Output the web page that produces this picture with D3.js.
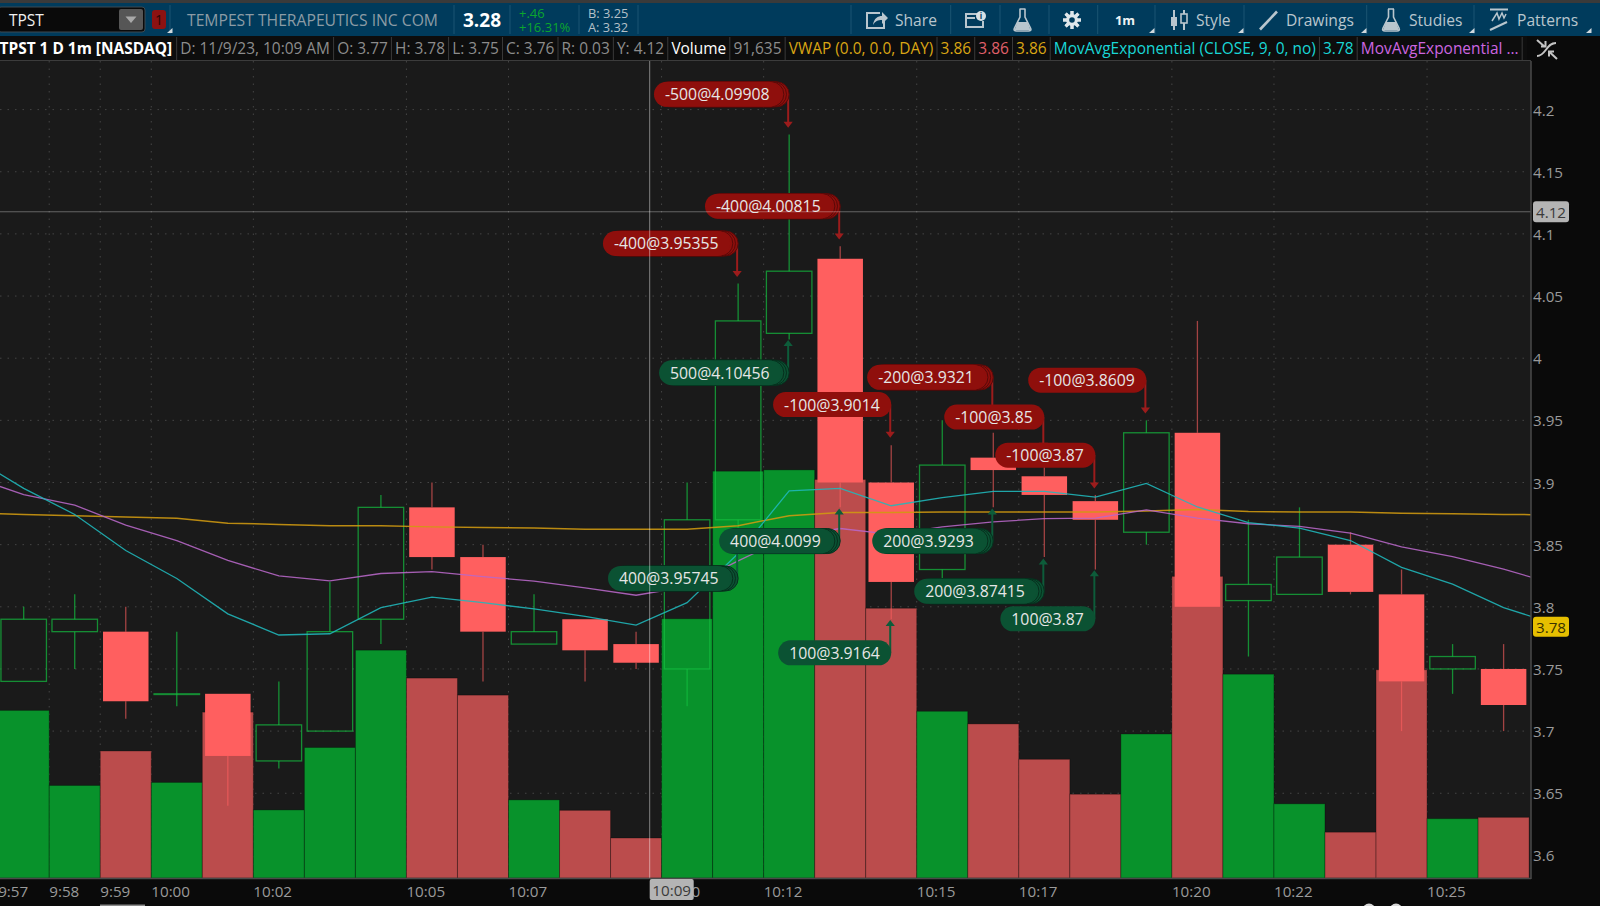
<!DOCTYPE html>
<html><head><meta charset="utf-8">
<script src="https://cdn.jsdelivr.net/npm/d3@7"></script>
<style>html,body{margin:0;padding:0;background:#0a0a0a;overflow:hidden}svg{display:block}text{font-family:"Open Sans",sans-serif}</style>
</head><body><svg id="c" width="1600" height="906"></svg>
<script>
// ---------- data ----------
const barTimes = ["9:57","9:58","9:59","10:00","10:01","10:02","10:03","10:04","10:05","10:06","10:07","10:08","10:09","10:10","10:11","10:12","10:13","10:14","10:15","10:16","10:17","10:18","10:19","10:20","10:21","10:22","10:23","10:24","10:25","10:26"];
const opens  = [3.74,3.78,3.78,3.73,3.73,3.676,3.70,3.79,3.88,3.84,3.77,3.79,3.77,3.75,3.87,4.02,4.08,3.90,3.83,3.92,3.905,3.885,3.86,3.94,3.805,3.81,3.85,3.81,3.75,3.75];
const highs  = [3.80,3.81,3.80,3.78,3.73,3.74,3.82,3.89,3.90,3.85,3.81,3.79,3.78,3.90,4.06,4.18,4.09,3.93,3.95,3.94,3.93,3.89,3.95,4.03,3.87,3.88,3.86,3.83,3.77,3.77];
const lows   = [3.74,3.75,3.71,3.72,3.64,3.67,3.70,3.77,3.83,3.74,3.77,3.74,3.75,3.72,3.86,4.015,3.88,3.79,3.82,3.88,3.84,3.83,3.85,3.80,3.76,3.81,3.81,3.70,3.73,3.70];
const closes = [3.79,3.79,3.724,3.73,3.68,3.705,3.78,3.88,3.84,3.78,3.78,3.765,3.755,3.87,4.03,4.07,3.90,3.82,3.914,3.91,3.89,3.87,3.94,3.80,3.818,3.84,3.812,3.74,3.76,3.721];
const volumes = [384000,212000,291000,219000,380000,156000,299000,522000,458000,419000,179000,155000,91635,594000,932000,935000,913000,618000,382000,353000,272000,192000,330000,691000,467000,170000,105000,477000,136000,139000];
// studies run one bar before and one bar after the visible candles
const vwap  = [3.8753,3.8743,3.8733,3.8723,3.8713,3.8673,3.8663,3.8653,3.8653,3.8643,3.8638,3.8633,3.8623,3.8623,3.8623,3.8653,3.8733,3.8758,3.8758,3.8763,3.8763,3.8763,3.8763,3.877,3.8783,3.8767,3.8763,3.8763,3.8753,3.8748,3.8743,3.874];
const ema9  = [3.9203,3.8953,3.8743,3.8453,3.8228,3.7943,3.7773,3.7783,3.7993,3.8078,3.8033,3.7983,3.7923,3.7853,3.8033,3.8429,3.8933,3.8953,3.8813,3.8879,3.8928,3.8928,3.8883,3.8993,3.8803,3.8678,3.8633,3.8533,3.8317,3.8183,3.7993,3.7863];
const emaSlow = [3.9043,3.8903,3.8818,3.8657,3.8533,3.8373,3.8249,3.8209,3.8268,3.8283,3.8243,3.8207,3.8153,3.8093,3.8163,3.837,3.8563,3.863,3.8583,3.8643,3.8683,3.871,3.8713,3.878,3.8713,3.8668,3.8647,3.8593,3.8483,3.8403,3.8303,3.8183];
const priceTicks = ["3.6","3.65","3.7","3.75","3.8","3.85","3.9","3.95","4","4.05","4.1","4.15","4.2"];
const timeTicks = ["9:57","9:58","9:59","10:00","10:02","10:05","10:07","10:10","10:12","10:15","10:17","10:20","10:22","10:25"];
const tradeLabels = ["-500@4.09908","-400@4.00815","-400@3.95355","-100@3.9014","-200@3.9321","-100@3.85","-100@3.87","-100@3.8609","500@4.10456","400@3.95745","400@4.0099","100@3.9164","200@3.9293","200@3.87415","100@3.87"];
const tradeBars   = [15,16,14,17,19,20,21,22,15,14,16,17,19,20,21];
const tradeTips   = [4.1853,4.0955,4.0653,3.936,3.9448,3.9271,3.8952,3.9555,4.0146,3.8563,3.8791,3.7893,3.8791,3.8389,3.8295];
const tradePills  = [4.2123,4.1223,4.0923,3.9627,3.9846,3.9526,3.922,3.9823,3.9883,3.8228,3.8529,3.763,3.8529,3.8125,3.7903];
const tradeFills  = [4,4,4,1,4,1,1,1,4,4,4,1,4,4,1];
const hoverTime = "10:09", hoverPrice = 4.1178, hoverPriceText = "4.12";
const lastStudy = 3.7839, lastStudyText = "3.78";
const headerTicker = "TPST", headerName = "TEMPEST THERAPEUTICS INC COM", headerLast = "3.28";
const headerChange = ["+.46","+16.31%"], headerQuote = ["B: 3.25","A: 3.32"];
const statusCells = [
 ["TPST 1 D 1m [NASDAQ]","#ffffff",700],["D: 11/9/23, 10:09 AM","#8c8c8c",400],["O: 3.77","#8c8c8c",400],["H: 3.78","#8c8c8c",400],["L: 3.75","#8c8c8c",400],["C: 3.76","#8c8c8c",400],["R: 0.03","#8c8c8c",400],["Y: 4.12","#8c8c8c",400],
 ["Volume","#ffffff",400],["91,635","#8c8c8c",400],["VWAP (0.0, 0.0, DAY)","#d9a514",400],["3.86","#d9a514",400],["3.86","#e0606a",400],["3.86","#d9a514",400],
 ["MovAvgExponential (CLOSE, 9, 0, no)","#19d6d6",400],["3.78","#19d6d6",400],["MovAvgExponential ...","#cc66e0",400]];

// ---------- layout ----------
const svg = d3.select("#c");
const W=1600,H=906,plotR=1531,plotT=61,plotB=878;
const y = d3.scaleLinear().domain([3.6,4.2]).range([855.4,109.6]);
const x = d3.scaleLinear().domain([0,29]).range([23.7,1503.6]);
const step = x(1)-x(0);
const yVol = d3.scaleLinear().domain([0,916350]).range([plotB,478]);
const idx = t => barTimes.indexOf(t);
const bw = 45.5;

svg.append("rect").attr("width",W).attr("height",H).attr("fill","#0a0a0a");
svg.append("rect").attr("y",plotT).attr("width",plotR).attr("height",plotB-plotT).attr("fill","#1a1a1a");
const defs = svg.append("defs");
defs.append("clipPath").attr("id","plot").append("rect").attr("y",plotT).attr("width",plotR).attr("height",plotB-plotT);
const plot = svg.append("g").attr("clip-path","url(#plot)");

// grid
const tickX = t => x(idx(t))-step/2;
plot.selectAll(".gy").data(priceTicks).join("line").attr("x1",0).attr("x2",1524)
  .attr("y1",d=>y(+d)).attr("y2",d=>y(+d)).attr("stroke","#454545").attr("stroke-dasharray","1.5 6");
plot.selectAll(".gx").data(timeTicks).join("line").attr("x1",tickX).attr("x2",tickX)
  .attr("y1",plotT).attr("y2",plotB).attr("stroke","#454545").attr("stroke-dasharray","1.5 6");

// volume
plot.selectAll(".v").data(volumes).join("rect")
  .attr("x",(d,i)=>x(i)-step/2).attr("width",step)
  .attr("y",d=>yVol(d)).attr("height",d=>plotB-yVol(d))
  .attr("fill",(d,i)=>closes[i]>=opens[i]?"#08922b":"#bb4c4c")
  .attr("stroke","#000").attr("stroke-opacity",.3).attr("stroke-width",1);

// candles
const candles = barTimes.map((t,i)=>({i,o:opens[i],h:highs[i],l:lows[i],c:closes[i],up:closes[i]>=opens[i]}));
const cg = plot.selectAll(".cd").data(candles).join("g");
cg.append("line").attr("x1",d=>x(d.i)).attr("x2",d=>x(d.i)).attr("y1",d=>y(d.h)).attr("y2",d=>y(Math.max(d.o,d.c)))
  .attr("stroke",d=>d.up?"#14c040":"#ff5f5f").attr("stroke-opacity",d=>d.up?.7:.6).attr("stroke-width",1.3);
cg.append("line").attr("x1",d=>x(d.i)).attr("x2",d=>x(d.i)).attr("y1",d=>y(Math.min(d.o,d.c))).attr("y2",d=>y(d.l))
  .attr("stroke",d=>d.up?"#14c040":"#ff5f5f").attr("stroke-opacity",d=>d.up?.7:.6).attr("stroke-width",1.3);
cg.append("rect").attr("x",d=>x(d.i)-bw/2).attr("width",bw)
  .attr("y",d=>y(Math.max(d.o,d.c))).attr("height",d=>Math.max(Math.abs(y(d.o)-y(d.c)),.7))
  .attr("fill",d=>d.up?"none":"#ff5f5f")
  .attr("stroke",d=>d.up?"#14c040":"none").attr("stroke-opacity",.7).attr("stroke-width",1.3);

// studies
const line = d3.line().x((d,i)=>x(i-1)).y(d=>y(d));
[[vwap,"#d09a10",1.5],[emaSlow,"#b868c8",1.3],[ema9,"#20b8bc",1.3]].forEach(([a,c,w])=>
  plot.append("path").attr("d",line(a)).attr("fill","none").attr("stroke",c).attr("stroke-width",w).attr("stroke-opacity",.88));

// trade bubbles
const pillH=25;
const trades = tradeLabels.map((t,i)=>({t,bar:tradeBars[i],tip:tradeTips[i],pill:tradePills[i],fills:tradeFills[i],sell:t[0]==="-"}));
trades.forEach(d=>{
  const g=plot.append("g");
  const ax=x(d.bar)-1, py=y(d.pill), ty=y(d.tip);
  const col=d.sell?"#8f0f0c":"#0b5233", acol=d.sell?"#9c1c1c":"#0d5c3a", dark=d.sell?"#590908":"#062f1d";
  const dir=ty>py?1:-1;
  g.append("line").attr("x1",ax).attr("x2",ax).attr("y1",py).attr("y2",ty-dir*5).attr("stroke",acol).attr("stroke-width",2);
  g.append("path").attr("d",`M${ax-4.6},${ty-dir*6}L${ax+4.6},${ty-dir*6}L${ax},${ty}Z`).attr("fill",acol);
  const txt=g.append("text").attr("font-size",15.8).attr("fill","#e6e6e6").attr("dominant-baseline","central").text(d.t);
  const tw=txt.node().getComputedTextLength();
  const pw=tw+22.5, extra=d.fills>1?8:0, right=ax+1-extra, left=right-pw;
  for(let k=d.fills-1;k>0;k--){
    const off=extra*k/(d.fills-1);
    g.append("rect").attr("x",left+off).attr("y",py-pillH/2).attr("width",pw).attr("height",pillH).attr("rx",pillH/2)
      .attr("fill",col).attr("stroke",dark).attr("stroke-width",1);
  }
  g.append("rect").attr("x",left).attr("y",py-pillH/2).attr("width",pw).attr("height",pillH).attr("rx",pillH/2).attr("fill",col);
  txt.attr("x",left+11).attr("y",py); txt.raise();
});

// crosshair
const hoverX = 649.7;
plot.append("line").attr("x1",0).attr("x2",plotR).attr("y1",y(hoverPrice)).attr("y2",y(hoverPrice)).attr("stroke","#fff").attr("stroke-opacity",.33);
plot.append("line").attr("x1",hoverX).attr("x2",hoverX).attr("y1",plotT).attr("y2",plotB).attr("stroke","#fff").attr("stroke-opacity",.45);

// plot frame
svg.append("line").attr("x1",plotR).attr("x2",plotR).attr("y1",plotT).attr("y2",plotB+1).attr("stroke","#4a4a4a").attr("stroke-width",1.5);
svg.append("line").attr("x1",0).attr("x2",plotR).attr("y1",plotB+.5).attr("y2",plotB+.5).attr("stroke","#4a4a4a").attr("stroke-width",1.5);

// axes text
svg.selectAll(".ty").data(priceTicks).join("text").attr("x",1533).attr("y",d=>y(+d)).attr("dominant-baseline","central")
  .attr("font-size",15.2).attr("fill","#9a9a9a").text(d=>d);
svg.selectAll(".tx").data(timeTicks).join("text").attr("x",tickX).attr("y",891).attr("dominant-baseline","central")
  .attr("font-size",15.2).attr("fill","#9a9a9a").text(d=>d);
// hover labels
svg.append("rect").attr("x",hoverX).attr("y",879).attr("width",44).attr("height",21).attr("rx",2).attr("fill","#b4b4b4");
svg.append("text").attr("x",hoverX+22).attr("y",889.5).attr("text-anchor","middle").attr("dominant-baseline","central").attr("font-size",15.2).attr("fill","#3a3a3a").text(hoverTime);
svg.append("rect").attr("x",1533).attr("y",y(hoverPrice)-10.5).attr("width",36).attr("height",21).attr("rx",3).attr("fill","#b4b4b4");
svg.append("text").attr("x",1551).attr("y",y(hoverPrice)).attr("text-anchor","middle").attr("dominant-baseline","central").attr("font-size",15.2).attr("fill","#3a3a3a").text(hoverPriceText);
svg.append("rect").attr("x",1533).attr("y",y(lastStudy)-10).attr("width",36).attr("height",20).attr("rx",3).attr("fill","#e6bf00");
svg.append("text").attr("x",1551).attr("y",y(lastStudy)).attr("text-anchor","middle").attr("dominant-baseline","central").attr("font-size",15.2).attr("fill","#3a3200").text(lastStudyText);
// screen-edge fragments
svg.append("rect").attr("x",100).attr("y",904.5).attr("width",45).attr("height",1.5).attr("fill","#8a8a8a");
[1369,1396].forEach(cx=>svg.append("circle").attr("cx",cx).attr("cy",910).attr("r",6.5).attr("fill","#d8d8d8"));

// ---------- status row ----------
const sr = svg.append("g");
sr.append("rect").attr("y",36).attr("width",1527).attr("height",25).attr("fill","#0d0d0d");
sr.append("line").attr("x1",0).attr("x2",1531).attr("y1",60.5).attr("y2",60.5).attr("stroke","#3c3c3c");
let cx0=-0.5;
statusCells.forEach(([t,c,w],i)=>{
  const tx=sr.append("text").attr("x",cx0).attr("y",47.8).attr("dominant-baseline","central").attr("font-size",15.45).attr("font-weight",w).attr("fill",c).text(t);
  const len=tx.node().getComputedTextLength();
  cx0+=len+(i===0?4.5:3.6);
  sr.append("line").attr("x1",cx0).attr("x2",cx0).attr("y1",37).attr("y2",60).attr("stroke","#3a3a3a");
  cx0+=3.6;
});
// compress/expand icon
const sw=svg.append("g").attr("fill","none").attr("stroke","#c4c4c4").attr("stroke-width",2);
sw.append("path").attr("d","M1537,56C1546,56 1546,43 1556,43");
sw.append("path").attr("d","M1537,40L1545,47M1541,46.5H1545.5V41");
sw.append("path").attr("d","M1557,59L1549,51.5M1549,56.5V51.5H1554");

// ---------- toolbar ----------
const tb=svg.append("g");
tb.append("rect").attr("width",W).attr("height",3).attr("fill","#3a3a3a");
tb.append("rect").attr("y",3).attr("width",W).attr("height",33).attr("fill","#003b5c");
tb.append("rect").attr("x",-2).attr("y",7).attr("width",147).attr("height",25).attr("rx",3).attr("fill","#0a0a0a").attr("stroke","#3c4a52");
tb.append("rect").attr("x",119).attr("y",9).attr("width",24).attr("height",21).attr("rx",2).attr("fill","#565656");
tb.append("path").attr("d","M125.5,16.5H136.5L131,23Z").attr("fill","#a8a8a8");
const label=(t,xp,yp,fs,col,w,a)=>tb.append("text").attr("x",xp).attr("y",yp).attr("dominant-baseline","central").attr("font-size",fs).attr("fill",col).attr("font-weight",w||400).attr("text-anchor",a||"start").text(t);
label(headerTicker,9,19.5,15.5,"#f0f0f0");
tb.append("rect").attr("x",152).attr("y",10).attr("width",14).attr("height",19).attr("rx",3).attr("fill","#8c1212");
label("1",159,19.5,14,"#2a0505",400,"middle");
label(headerName,187,19.5,15.7,"#8c9ba5");
label(headerLast,463,19.5,19,"#ffffff",700);
label(headerChange[0],519,13,13,"#0ba62e"); label(headerChange[1],519,27,13,"#0ba62e");
label(headerQuote[0],588,13,12.8,"#b4c0c8"); label(headerQuote[1],588,27,12.8,"#b4c0c8");
[170,454,510,579,638,851,950.7,1000,1049,1097.7,1155,1244,1366.7,1474].forEach(v=>
  tb.append("line").attr("x1",v).attr("x2",v).attr("y1",5).attr("y2",34).attr("stroke","#1b5472"));
const tool="#b9c6ce";
label("Share",895,19.5,15.6,tool); label("Style",1196,19.5,15.6,tool); label("Drawings",1286,19.5,15.6,tool); label("Studies",1409,19.5,15.6,tool); label("Patterns",1517,19.5,15.6,tool);
label("1m",1125,20,13,"#eef2f4",700,"middle");
[167,1149,1238,1361,1469,1586].forEach(v=>tb.append("path").attr("d",`M${v},33H${v+5.5}V28Z`).attr("fill","#cfd8dd"));
const ic=tb.append("g").attr("fill","none").attr("stroke",tool).attr("stroke-width",2);
// share
ic.append("path").attr("d","M880,13H867V28H884V21");
ic.append("path").attr("d","M873,25C874,18 878,16 882,16V12L888,18L882,24V20C878,20 875,21 873,25Z").attr("fill",tool).attr("stroke","none");
// info
ic.append("path").attr("d","M977,14H966V27H983V21M966,18H975");
tb.append("circle").attr("cx",981).attr("cy",16).attr("r",5).attr("fill","#d8e0e4");
label("i",981,15.5,8,"#003b5c",700,"middle");
// flasks
[1022.5,1391].forEach(c=>{
  ic.append("path").attr("d",`M${c-3},9H${c+3}M${c-2.5},9V17L${c-8},28C${c-9},30 ${c-8},31 ${c-6},31H${c+6}C${c+8},31 ${c+9},30 ${c+8},28L${c+2.5},17V9`).attr("stroke-width",1.6);
  tb.append("path").attr("d",`M${c-5},22H${c+5}L${c+8},30H${c-8}Z`).attr("fill",tool);
});
// gear
const gear=tb.append("g").attr("transform","translate(1072,20)");
d3.range(8).forEach(k=>gear.append("rect").attr("x",-1.5).attr("y",-9).attr("width",3).attr("height",18).attr("fill","#dfe6ea").attr("transform",`rotate(${k*45})`));
gear.append("circle").attr("r",6).attr("fill","#dfe6ea");
gear.append("circle").attr("r",2.8).attr("fill","#003b5c");
// style candles
ic.append("path").attr("d","M1174,10V30M1184,10V30");
tb.append("rect").attr("x",1171).attr("y",17).attr("width",6).attr("height",9).attr("fill",tool);
tb.append("rect").attr("x",1181).attr("y",14).attr("width",6).attr("height",9).attr("fill","#003b5c").attr("stroke",tool).attr("stroke-width",1.6);
// drawings
ic.append("path").attr("d","M1260,29.5L1277,11.5").attr("stroke-width",2.6);
// patterns
ic.append("path").attr("d","M1490,9.5H1508").attr("stroke-width",2);
ic.append("path").attr("d","M1492,21L1497,13L1499,19L1502,13L1504,18L1506,14").attr("stroke-width",1.5);
ic.append("path").attr("d","M1490,30L1507,22").attr("stroke-width",2.2);
</script></body></html>
